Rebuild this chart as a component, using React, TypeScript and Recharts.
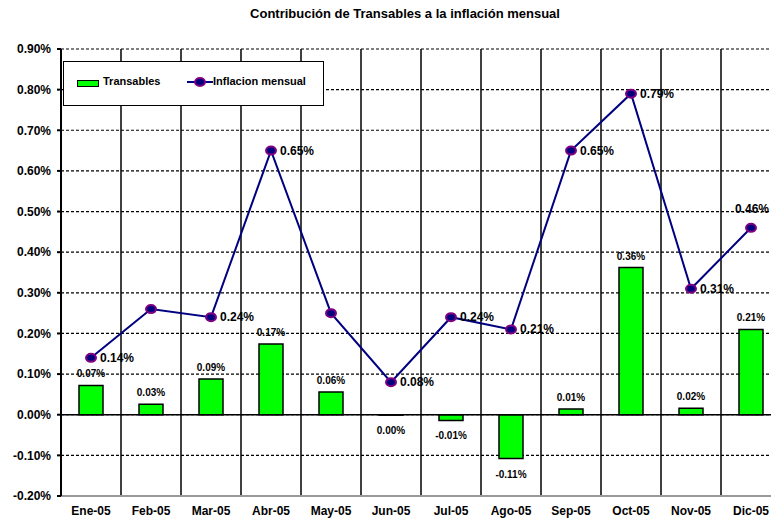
import React from "react";
import { ComposedChart, Bar, Line, XAxis, YAxis, CartesianGrid, ReferenceLine } from "recharts";

const months = ["Ene-05", "Feb-05", "Mar-05", "Abr-05", "May-05", "Jun-05", "Jul-05", "Ago-05", "Sep-05", "Oct-05", "Nov-05", "Dic-05"];
const transables = [0.072, 0.026, 0.088, 0.174, 0.056, -0.001, -0.014, -0.108, 0.014, 0.362, 0.016, 0.21];
const inflacion = [0.14, 0.26, 0.24, 0.65, 0.25, 0.08, 0.24, 0.21, 0.65, 0.79, 0.31, 0.46];
const hiddenLineLabels = [1, 4];
const yTicks = [-0.2, -0.1, 0, 0.1, 0.2, 0.3, 0.4, 0.5, 0.6, 0.7, 0.8, 0.9];

const data = months.map((m, i) => ({ month: m, transables: transables[i], inflacion: inflacion[i] }));

const FONT = "'Liberation Sans', Arial, sans-serif";
const fmt = (v: number) => (Math.abs(v) < 0.005 ? "0.00" : v.toFixed(2)) + "%";

const Dot = (p: any) => (
  <ellipse cx={p.cx} cy={p.cy} rx={5} ry={4} fill="#000080" stroke="#800080" strokeWidth={2} />
);

const BarLabel = (p: any) => {
  const top = Math.min(p.y, p.y + p.height);
  const bottom = Math.max(p.y, p.y + p.height);
  const pos = p.value > 0;
  return (
    <text x={p.x + p.width / 2} y={pos ? top - 8 : bottom + 19} textAnchor="middle"
      fontFamily={FONT} fontWeight="bold" fontSize={10} fill="#000">{fmt(p.value)}</text>
  );
};

const LineLabel = (p: any) => {
  if (hiddenLineLabels.includes(p.index)) return null;
  const last = p.index === months.length - 1;
  return (
    <text x={last ? p.x - 16 : p.x + 9} y={last ? p.y - 15 : p.y + 4} textAnchor="start"
      fontFamily={FONT} fontWeight="bold" fontSize={12} fill="#000">{fmt(p.value)}</text>
  );
};

const vertical = ({ offset }: any) => {
  const pts: number[] = [];
  for (let i = 1; i <= months.length; i++) pts.push(offset.left + (i * offset.width) / months.length);
  return pts;
};

export default function App() {
  return (
    <div style={{ position: "absolute", left: 0, top: 0, width: 771, height: 520, overflow: "hidden", background: "#fff", fontFamily: FONT }}>
      <div style={{ position: "absolute", left: 0, width: 810, top: 6, textAlign: "center", fontWeight: "bold", fontSize: 13 }}>
        Contribución de Transables a la inflación mensual
      </div>
      <ComposedChart width={800} height={520} data={data} margin={{ top: 49, right: 19, bottom: 0, left: 0 }}>
        <CartesianGrid vertical={false} stroke="#000" strokeDasharray="3 2" strokeWidth={1.2} />
        <CartesianGrid horizontal={false} stroke="#000" strokeWidth={1.5} verticalCoordinatesGenerator={vertical} />
        <XAxis dataKey="month" height={24} tickLine={false} tickSize={0} tickMargin={10} stroke="#999" strokeWidth={2}
          tick={{ fill: "#000", fontSize: 12, fontWeight: "bold", fontFamily: FONT }} interval={0} />
        <YAxis width={61} domain={[-0.2, 0.9]} ticks={yTicks} tickFormatter={fmt} tickSize={4} tickMargin={6}
          stroke="#000" strokeWidth={2} allowDataOverflow
          tick={{ fill: "#000", fontSize: 12, fontWeight: "bold", fontFamily: FONT }} />
        <ReferenceLine y={0} stroke="#000" strokeWidth={1.5} />
        <Bar dataKey="transables" fill="#00ff00" stroke="#000" strokeWidth={1.5} barSize={24}
          isAnimationActive={false} label={BarLabel} />
        <Line dataKey="inflacion" stroke="#000080" strokeWidth={2} dot={Dot} activeDot={false}
          isAnimationActive={false} label={LineLabel} />
      </ComposedChart>
      <div style={{ position: "absolute", left: 63, top: 61, width: 259, height: 43, border: "1.5px solid #000", background: "#fff" }}>
        <div style={{ position: "absolute", left: 13, top: 18, width: 20, height: 5, background: "#00ff00", border: "1.5px solid #000" }} />
        <div style={{ position: "absolute", left: 39, top: 13, fontSize: 11, fontWeight: "bold" }}>Transables</div>
        <svg style={{ position: "absolute", left: 122, top: 14 }} width={28} height={12}>
          <line x1={1} y1={6} x2={27} y2={6} stroke="#000080" strokeWidth={2} />
          <ellipse cx={14} cy={6} rx={5} ry={4} fill="#000080" stroke="#800080" strokeWidth={2} />
        </svg>
        <div style={{ position: "absolute", left: 149, top: 13, fontSize: 11, fontWeight: "bold" }}>Inflacion mensual</div>
      </div>
    </div>
  );
}
